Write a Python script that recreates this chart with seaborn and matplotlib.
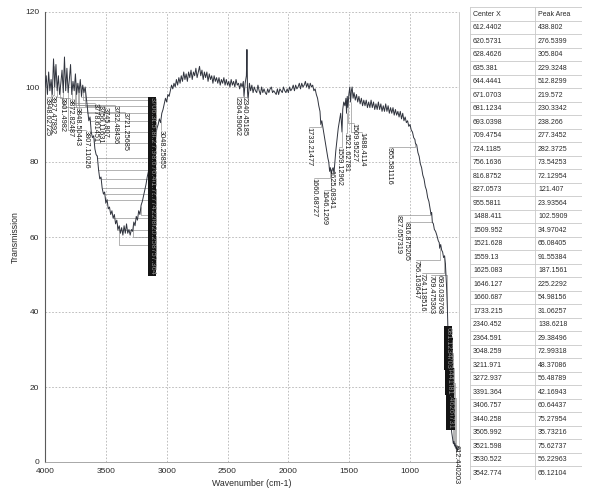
import numpy as np
import pandas as pd
import matplotlib
matplotlib.use("Agg")
import matplotlib.pyplot as plt
from matplotlib.patches import Rectangle
import seaborn as sns

# ---------------------------------------------------------------- spectrum
wavenumber = [
    4000, 3990, 3980, 3970, 3960, 3950, 3940, 3930, 3920, 3910,
    3900, 3890, 3880, 3870, 3860, 3850, 3840, 3830, 3820, 3810,
    3800, 3790, 3780, 3770, 3760, 3750, 3740, 3730, 3720, 3710,
    3700, 3690, 3680, 3670, 3660,
    3650, 3640, 3630, 3620, 3610, 3600, 3590, 3580, 3570, 3560,
    3550, 3540, 3530, 3520, 3510, 3500, 3490, 3480, 3470, 3460,
    3450, 3440, 3430, 3420, 3410, 3400, 3390, 3380, 3370, 3360,
    3350, 3340, 3330, 3320, 3310, 3300, 3290, 3280, 3270, 3260,
    3250, 3240, 3230, 3220, 3210, 3200, 3190, 3180, 3170, 3160,
    3150, 3140, 3130, 3120, 3110, 3100, 3090, 3080, 3070, 3060,
    3050, 3040, 3030, 3020, 3010, 3000, 2990, 2980, 2970, 2960,
    2950, 2940, 2930, 2920,
    2910, 2900, 2890, 2880, 2870, 2860, 2850, 2840, 2830, 2820,
    2810, 2800, 2790, 2780, 2770, 2760, 2750, 2740, 2730, 2720,
    2710, 2700, 2690, 2680, 2670, 2660, 2650, 2640, 2630, 2620,
    2610, 2600, 2590, 2580, 2570, 2560, 2550, 2540, 2530, 2520,
    2510, 2500, 2490, 2480, 2470, 2460, 2450, 2440, 2430, 2420,
    2410, 2400, 2390, 2380, 2370, 2364.6, 2355, 2345, 2340.5, 2336,
    2330, 2320,
    2310, 2300, 2290, 2280, 2270, 2260, 2250, 2240, 2230, 2220,
    2210, 2200, 2190, 2180, 2170, 2160, 2150, 2140, 2130, 2120,
    2110, 2100, 2090, 2080, 2070, 2060, 2050, 2040, 2030, 2020,
    2010, 2000, 1990, 1980, 1970, 1960, 1950, 1940, 1930, 1920,
    1910, 1900, 1890, 1880, 1870, 1860, 1850, 1840, 1830, 1820,
    1810, 1800, 1790, 1780, 1770,
    1760, 1750, 1740, 1733.2, 1725, 1715, 1705, 1695, 1685, 1675,
    1668, 1660.7, 1655, 1646.1, 1640, 1632, 1625.1, 1618, 1610, 1600,
    1590, 1580, 1570, 1565, 1559.1, 1553, 1545, 1535, 1527, 1521.6,
    1516, 1509.9, 1503, 1495, 1488.4, 1482, 1476, 1468, 1460, 1450,
    1440, 1430, 1420, 1410, 1400, 1390, 1380, 1370, 1360, 1350,
    1340, 1330, 1320, 1310, 1300, 1290, 1280, 1270, 1260, 1250,
    1240, 1230, 1220, 1210, 1200, 1190, 1180, 1170, 1160, 1150,
    1140, 1130, 1120, 1110, 1100, 1090, 1080, 1070, 1060, 1050,
    1040, 1030, 1020, 1010, 1000,
    990, 980, 970, 960, 955.6, 945, 935, 925, 915, 905,
    895, 885, 875, 865, 855, 845, 835, 827.1, 822, 816.9,
    808, 800, 790, 780, 768, 760, 756.2, 748, 740, 732,
    724.1, 716, 709.5, 700, 693, 687, 681.1, 676, 671.1, 665,
    658, 651, 644.4, 640, 635.4, 632, 628.5, 624, 620.6, 616,
    612.4, 606, 600,
]
transmission = [
    100, 103, 98, 104, 99, 102, 98, 107.5, 100, 106,
    99, 103, 98, 101, 104.5, 98.5, 108, 99, 105, 98.5,
    102, 106, 98, 101.5, 99, 103.5, 98, 101, 98.5, 102,
    97.5, 100.5, 98.5, 100, 97,
    94, 91, 92, 88, 86.5, 87, 83.5, 82, 81.5, 78,
    75.5, 76, 73, 71.5, 72, 69, 70, 67.5, 68, 66,
    67, 65, 66, 63.5, 64.5, 62, 63, 61, 62.5, 60.5,
    63, 61, 63.5, 61, 62, 60.5, 62, 61.5, 64, 63,
    65.5, 64.5, 67, 66, 68.5, 69.5, 71, 72.5, 74, 76,
    77.5, 79, 81, 83, 84, 86, 87, 89, 90, 91.5,
    90.5, 93, 94, 95.5, 97, 96, 98, 97.5, 99, 100.5,
    99.5, 101, 100, 102,
    100.5, 102.5, 101, 103, 101.5, 104, 102, 103.5, 101.5, 104,
    102.5, 104.5, 102, 104, 103, 105, 102.5, 104, 105.5, 103,
    104.5, 102, 104, 102.5, 104, 101.5, 103.5, 102, 103, 101,
    103, 101.5, 102.5, 101, 102.5, 100.5, 102, 101, 102.5, 100.5,
    102, 100.5, 101.5, 100, 102, 100.5, 101.5, 100, 102, 100.5,
    101, 99.5, 101, 100, 101.5, 97.5, 101, 103, 110, 99,
    97, 101,
    99, 100.5, 98.5, 100, 99, 98.5, 100.5, 99, 98, 100,
    98.5, 99.5, 98.5, 98, 99.5, 98.5, 99.5, 100, 98.5, 99,
    98.5, 98, 99.5, 98, 99.5, 99, 98.5, 100, 99, 98.5,
    99.5, 98.5, 100, 99, 99.5, 100.5, 99, 100.5, 99.5, 100,
    101, 99.5, 101, 100, 100.5, 101.5, 100, 101, 99.5, 101,
    100, 100.5, 99, 99.5, 98,
    97, 95, 93.5, 90, 91, 89, 87, 85, 83, 81,
    80, 77.5, 78.5, 77, 78, 78.5, 77, 80, 83, 86,
    89, 91, 93, 91, 88, 94, 96, 95, 97, 93,
    97.5, 94.5, 98, 100, 96, 99, 100, 97, 98.5, 96.5,
    98, 96, 97.5, 95.5, 97, 95, 96.5, 95, 96.5, 94.5,
    96, 94.5, 96.5, 94.5, 96, 94, 95.5, 94, 96, 94,
    95.5, 93.5, 95, 93.5, 95.5, 93.5, 95, 93, 94.5, 93,
    94.5, 92.5, 94, 92.5, 93.5, 92, 93.5, 91.5, 93, 91,
    92, 90.5, 91, 89.5, 90,
    88.5, 88, 86.5, 86, 85, 84.5, 82.5, 81.5, 79.5, 78.5,
    76.5, 75.5, 73.5, 72.5, 70.5, 69.5, 67.5, 66, 66.5, 64,
    63.5, 62, 61.5, 60.5, 59, 58.5, 57, 58, 56.5, 56,
    54.5, 55, 53, 47, 41, 33, 26, 20, 15, 11,
    8, 6.5, 5, 5.5, 4.5, 5, 4, 4.5, 3.5, 4,
    3, 3.5, 4,
]

# ---------------------------------------------------------------- peaks
# fitted peak centres (ascending); the first 34 are listed in the table
peak_centers = [
    612.440203, 620.5731, 628.4626, 635.381, 644.4441, 671.0703,
    681.1234, 693.039768, 709.475363, 724.118516, 756.163647,
    816.875205, 827.057319, 955.581116, 1488.4114, 1509.95227,
    1521.62781, 1559.12962, 1625.08341, 1646.1269, 1660.68727,
    1733.21477, 2340.45185, 2364.59062, 3048.25855, 3211.971,
    3272.937, 3391.364, 3406.757, 3440.258, 3505.992, 3521.598,
    3530.522, 3542.774,
    3561.7, 3576.4, 3598.6, 3617.9, 3634.2, 3652.8, 3671.5, 3688.1,
    3706.3, 3721.25685, 3732.48436, 3745.807, 3756.11631, 3778.61451,
    3807.11026, 3848.50443, 3872.82487, 3901.4982, 3927.47892,
    3948.62725,
]
peak_areas = [
    438.802, 276.5399, 305.804, 229.3248, 512.8299, 219.572,
    230.3342, 238.266, 277.3452, 282.3725, 73.54253, 72.12954,
    121.407, 23.93564, 102.5909, 34.97042, 65.08405, 91.55384,
    187.1561, 225.2292, 54.98156, 31.06257, 138.6218, 29.38496,
    72.99318, 48.37086, 56.48789, 42.16943, 60.64437, 75.27954,
    35.73216, 75.62737, 56.22963, 65.12104,
]
table_headers = ["Center X", "Peak Area"]

x_ticks = [4000, 3500, 3000, 2500, 2000, 1500, 1000]
y_ticks = [0, 20, 40, 60, 80, 100, 120]

# where each peak label hangs: (x in cm-1, top of label in %T, stacked?)
STACK_X = 3123
label_layout = [
    (623, 4.5, False), (668, 17, True), (672, 21, True), (676, 25, True),
    (680, 29, True), (684, 33, True), (688, 36, True), (762, 49.9, False),
    (828, 49.9, False), (902, 50.4, False), (951, 53.9, False),
    (1033, 64, False), (1098, 65.9, False), (1172, 84, False),
    (1393, 88, False), (1459, 90.4, False), (1525, 87.7, False),
    (1582, 84, False), (1647, 78, False), (1705, 72.5, False),
    (1787, 75.7, False), (1828, 89.3, False), (2361, 97.3, False),
    (2418, 97.3, False), (3049, 88.5, False),
    (STACK_X, 66, True), (STACK_X, 60, True), (STACK_X, 58, True),
    (STACK_X, 62, True), (STACK_X, 65, True), (STACK_X, 70, True),
    (STACK_X, 71.5, True), (STACK_X, 73, True), (STACK_X, 75.5, True),
    (STACK_X, 78, True), (STACK_X, 81, True), (STACK_X, 85, True),
    (STACK_X, 88, True), (STACK_X, 91, True), (STACK_X, 93, True),
    (STACK_X, 95, True), (STACK_X, 96.5, True), (STACK_X, 97.3, True),
    (3344, 93.3, False), (3426, 95.2, False), (3508, 94.7, False),
    (3549, 95.2, False), (3590, 95.7, False), (3664, 88.5, False),
    (3738, 94.7, False), (3795, 97.0, False), (3861, 97.3, False),
    (3943, 97.9, False), (3984, 97.3, False),
]

# ---------------------------------------------------------------- style
sns.set_style("white")
plt.rcParams["font.family"] = ["Liberation Sans", "DejaVu Sans"]

W, H = 590, 491
fig = plt.figure(figsize=(W / 100, H / 100), dpi=100)
ax = fig.add_axes([45 / W, 29 / H, 413.7 / W, 450 / H])

spec = pd.DataFrame({"Wavenumber (cm-1)": wavenumber, "Transmission": transmission})
sns.lineplot(data=spec, x="Wavenumber (cm-1)", y="Transmission", ax=ax,
             color="#30343e", linewidth=0.7, estimator=None, sort=False, zorder=4)

ax.set_xlim(4000, 600)
ax.set_ylim(0, 120)
ax.set_xticks(x_ticks)
ax.set_yticks(y_ticks)
ax.set_xticklabels([str(t) for t in x_ticks])
ax.set_yticklabels([str(t) for t in y_ticks])
ax.tick_params(length=0, labelsize=6, colors="#2a2a2a", pad=4)
ax.grid(True, color="#b4b4b4", linestyle=(0, (2.0, 2.0)), linewidth=0.6)
ax.set_axisbelow(True)
ax.spines["top"].set_visible(False)
ax.spines["left"].set_color("#5a5a5a")
ax.spines["left"].set_linewidth(0.8)
ax.spines["bottom"].set_color("#9a9a9a")
ax.spines["bottom"].set_linewidth(0.6)
ax.spines["right"].set_color("#c4c4c4")
ax.spines["right"].set_linewidth(0.6)

ax.set_xlabel("Wavenumber (cm-1)", fontsize=6.3, color="#2a2a2a", labelpad=3)
ax.set_ylabel("Transmission", fontsize=6.3, color="#2a2a2a", labelpad=4)

# ---------------------------------------------------------------- peak labels
wn_asc = np.asarray(wavenumber, dtype=float)[::-1]
t_asc = np.asarray(transmission, dtype=float)[::-1]

for center, (lx, top, stacked) in zip(peak_centers, label_layout):
    tp = float(np.interp(center, wn_asc, t_asc))
    ax.plot([center, center, lx], [tp, top, top], color="#8a8a8a",
            linewidth=0.45, zorder=3, clip_on=False)
    if stacked:
        # crowded labels pile up into a dark column
        ax.text(lx, top, f"{center:.9g}", rotation=-90, ha="center", va="top",
                fontsize=5.3, color="#8c8c8c", zorder=5, clip_on=False,
                bbox=dict(facecolor="#141414", edgecolor="none", pad=0.4))
    else:
        ax.text(lx, top, f"{center:.9g}", rotation=-90, ha="center", va="top",
                fontsize=5.3, color="#1c1c1c", zorder=5, clip_on=False)

# ---------------------------------------------------------------- peak table
n_rows = len(peak_areas) + 1
tab = fig.add_axes([470 / W, 11.5 / H, 112 / W, 472.5 / H], zorder=6)
tab.set_xlim(0, 112)
tab.set_ylim(n_rows, 0)
tab.axis("off")
tab.add_patch(Rectangle((0, 0), 112, n_rows, facecolor="white", edgecolor="none"))
col_split = 65
for r in range(n_rows + 1):
    tab.plot([0, 112], [r, r], color="#c9c9c9", linewidth=0.6)
for c in (0, col_split, 112):
    tab.plot([c, c], [0, n_rows], color="#c9c9c9", linewidth=0.6)

tab.text(3, 0.55, table_headers[0], fontsize=5, color="#2a2a2a", va="center")
tab.text(col_split + 3, 0.55, table_headers[1], fontsize=5, color="#2a2a2a", va="center")
for i, (cx, area) in enumerate(zip(peak_centers, peak_areas), start=1):
    tab.text(3, i + 0.55, f"{cx:.7g}", fontsize=5, color="#2a2a2a", va="center")
    tab.text(col_split + 3, i + 0.55, f"{area:.7g}", fontsize=5, color="#2a2a2a", va="center")

fig.savefig("out.png", dpi=100)
